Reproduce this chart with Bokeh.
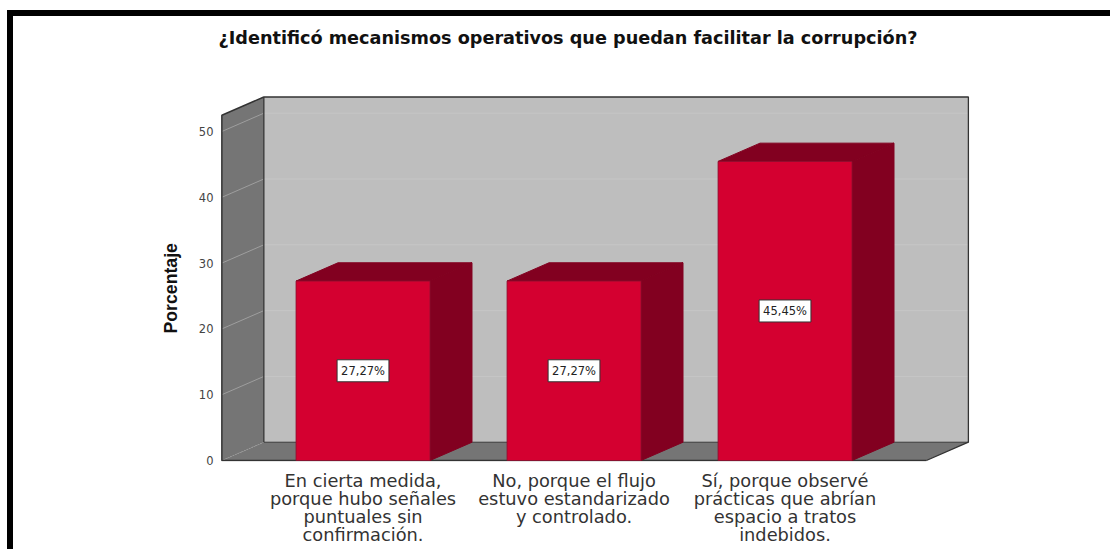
from bokeh.embed import file_html
from bokeh.resources import INLINE
from bokeh.plotting import figure
from bokeh.models import FixedTicker, Range1d, Title
from bokeh.core.properties import value

title_text = "¿Identificó mecanismos operativos que puedan facilitar la corrupción?"
y_label = "Porcentaje"
categories = [
    "En cierta medida,\nporque hubo señales\npuntuales sin\nconfirmación.",
    "No, porque el flujo\nestuvo estandarizado\ny controlado.",
    "Sí, porque observé\nprácticas que abrían\nespacio a tratos\nindebidos.",
]
positions = [1, 2, 3]
percentages = [27.27, 27.27, 45.45]
y_ticks = [0, 10, 20, 30, 40, 50]

DX, DY = 0.199, 2.78          # depth of the 3D box
WALL_L, WALL_R, WALL_T = 0.331, 3.67, 52.46
BAR_W = 0.635
WALL = "#757575"; BACK = "#BEBEBE"; FRONT = "#D40030"; DARK = "#820020"; EDGE = "#333333"
FONT = "DejaVu Sans"

p = figure(width=1103, height=539, output_backend="svg", toolbar_location=None,
           x_range=Range1d(0.3246, 3.879), y_range=Range1d(-0.15, 55.47),
           min_border_left=207, min_border_top=79, min_border_right=146, min_border_bottom=94,
           outline_line_color=None, background_fill_color="white")
p.styles = {"border-top": "6px solid black", "border-left": "6px solid black",
            "margin-top": "10px", "margin-left": "7px"}
p.grid.visible = False

# title, lifted away from the plot by an empty spacer panel
p.title.text = title_text
p.title.text_font = FONT
p.title.text_font_size = "17.65px"
p.title.text_font_style = "bold"
p.title.text_color = "#111111"
p.title.align = "left"
p.title.offset = -2
p.title.standoff = 0
p.add_layout(Title(text=" ", text_font_size="1px", standoff=45), "above")

# axes
ya = p.yaxis[0]
ya.ticker = FixedTicker(ticks=y_ticks)
ya.axis_line_color = None
ya.major_tick_line_color = None
ya.minor_tick_line_color = None
ya.major_label_standoff = 1
ya.major_label_text_font = FONT
ya.major_label_text_font_size = "11.5px"
ya.major_label_text_color = "#444444"

xa = p.xaxis[0]
xa.ticker = FixedTicker(ticks=positions)
xa.major_label_overrides = dict(zip(positions, categories))
xa.axis_line_color = None
xa.major_tick_line_color = None
xa.minor_tick_line_color = None
xa.major_label_standoff = 2
xa.major_label_text_font = FONT
xa.major_label_text_font_size = "17.8px"
xa.major_label_text_line_height = 0.87
xa.major_label_text_color = "#333333"

# 3D box: left wall, floor, back wall
p.patch([WALL_L, WALL_L + DX, WALL_L + DX, WALL_L], [0, DY, WALL_T + DY, WALL_T],
        fill_color=WALL, line_color=None)
p.patch([WALL_L, WALL_R, WALL_R + DX, WALL_L + DX], [0, 0, DY, DY],
        fill_color=WALL, line_color=None)
p.patch([WALL_L + DX, WALL_R + DX, WALL_R + DX, WALL_L + DX],
        [DY, DY, WALL_T + DY, WALL_T + DY], fill_color=BACK, line_color=None)

# gridlines
grid_ticks = y_ticks[1:]
p.multi_line([[WALL_L + DX, WALL_R + DX] for _ in grid_ticks],
             [[t + DY, t + DY] for t in grid_ticks], line_color="#C6C6C6", line_width=1)
p.multi_line([[WALL_L, WALL_L + DX] for _ in grid_ticks],
             [[t, t + DY] for t in grid_ticks], line_color="#9E9E9E", line_width=1)
p.line([WALL_L, WALL_L + DX], [0, DY], line_color="#9A9A9A", line_width=1, line_dash="1 2")

# box edges
p.line([WALL_L + DX, WALL_L + DX, WALL_R + DX, WALL_R + DX, WALL_R],
       [DY, WALL_T + DY, WALL_T + DY, DY, 0], line_color=EDGE, line_width=1.3)
p.line([WALL_L + DX, WALL_R + DX], [DY, DY], line_color=EDGE, line_width=1)
p.line([WALL_L + DX, WALL_L, WALL_L, WALL_R],
       [WALL_T + DY, WALL_T, 0, 0], line_color=EDGE, line_width=1.5)

# bars
for pos, val in zip(positions, percentages):
    l, r = pos - BAR_W / 2, pos + BAR_W / 2
    p.patch([l, r, r + DX, l + DX], [val, val, val + DY, val + DY],
            fill_color=DARK, line_color=DARK)
    p.patch([r, r + DX, r + DX, r], [0, DY, val + DY, val],
            fill_color=DARK, line_color=DARK)
    p.patch([l, r, r, l], [0, 0, val, val], fill_color=FRONT, line_color="#8A1030", line_width=0.8)

# value labels
p.text(x=positions, y=[v / 2 for v in percentages],
       text=[f"{v:.2f}%".replace(".", ",") for v in percentages],
       text_align="center", text_baseline="middle", text_font=value(FONT),
       text_font_size="11.5px", text_color="#222222",
       background_fill_color="white", border_line_color="#333333", padding=4)

# rotated y label
p.add_layout(Title(text=y_label, align="left", offset=128, standoff=30,
                   text_font="Liberation Sans", text_font_size="17.7px",
                   text_font_style="bold", text_color="#111111"), "left")

open("out.html", "w").write(file_html(p, INLINE))
